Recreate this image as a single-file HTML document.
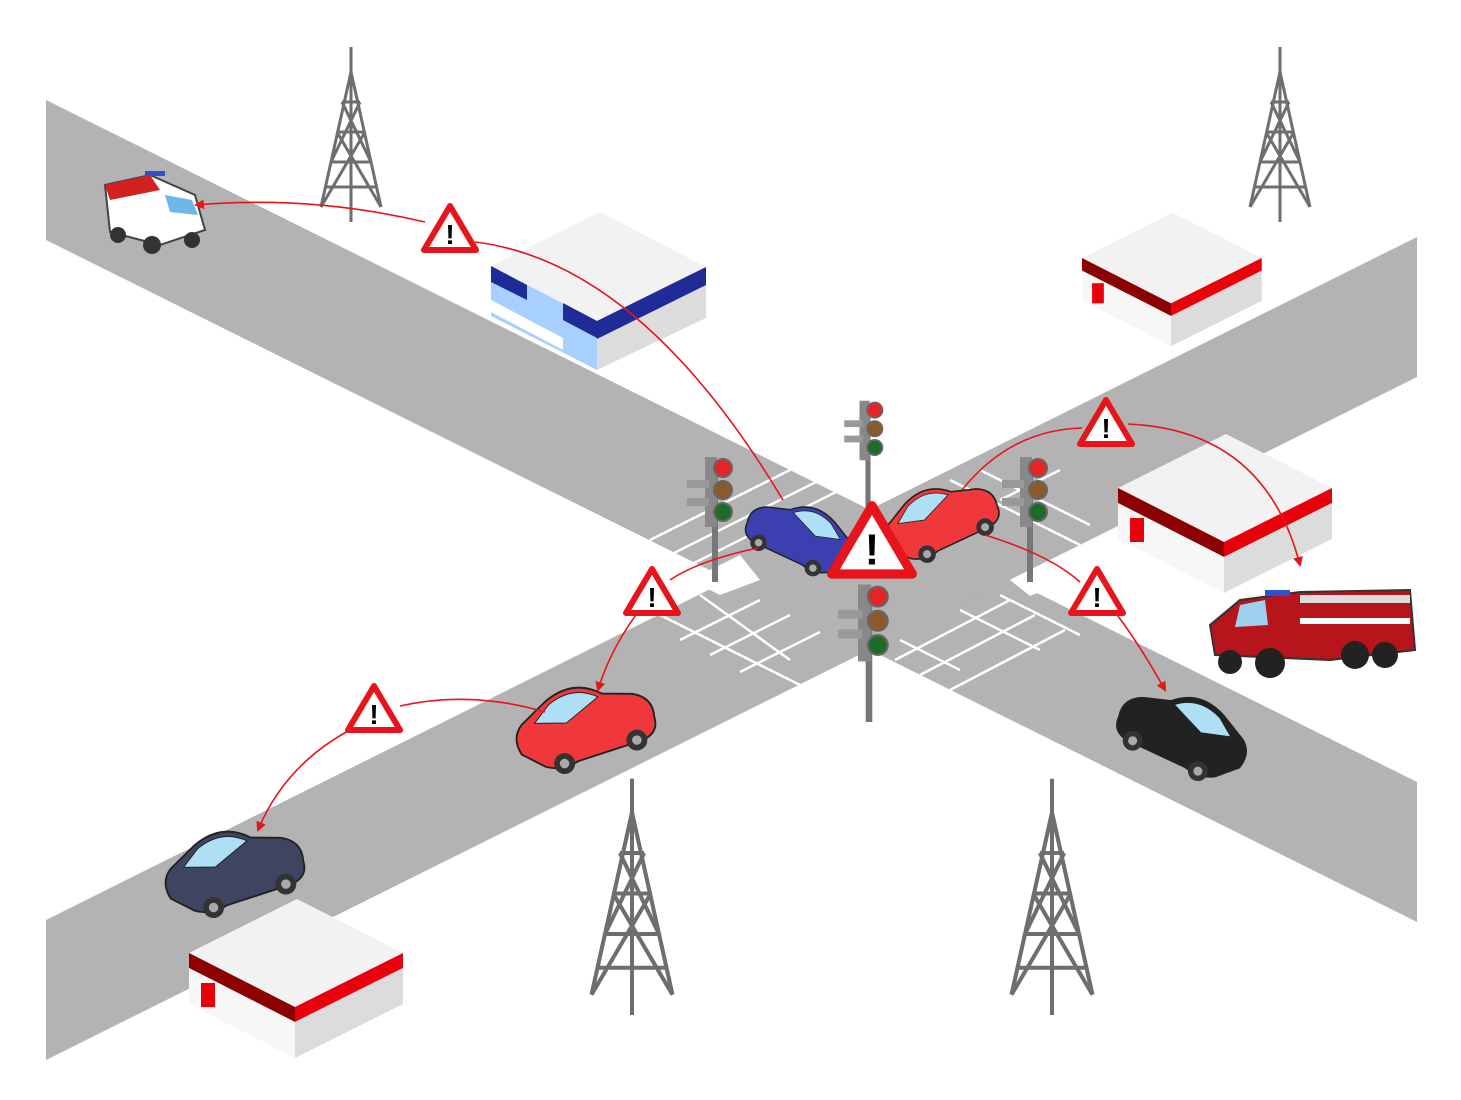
<!DOCTYPE html>
<html><head><meta charset="utf-8"><style>html,body{margin:0;padding:0;background:#fff}svg{display:block}</style></head>
<body>
<svg width="1461" height="1100" viewBox="0 0 1461 1100" xmlns="http://www.w3.org/2000/svg" font-family="Liberation Sans, sans-serif">
<defs>
<marker id="ar" markerWidth="10" markerHeight="10" refX="8" refY="5" orient="auto" markerUnits="userSpaceOnUse"><path d="M0,0 L10,5 L0,10 z" fill="#e8141c"/></marker>
<g id="tower" stroke="#6e6e6e" stroke-width="3" fill="none">
<path d="M0,0 V-175 M-30,-15 L0,-150 L30,-15 M-20,-60 H20 M-14,-90 H14 M-9,-120 H9 M-25,-35 H25 M-30,-15 L14,-90 M30,-15 L-14,-90 M-20,-60 L9,-120 M20,-60 L-9,-120"/>
</g>
<g id="tl">
<rect x="-3" y="0" width="6" height="120" fill="#777"/>
<rect x="-10" y="-5" width="12" height="70" fill="#888"/>
<rect x="-28" y="18" width="22" height="8" fill="#999"/><rect x="-28" y="36" width="22" height="8" fill="#999"/>
<circle cx="8" cy="6" r="9" fill="#e52525" stroke="#666" stroke-width="2"/>
<circle cx="8" cy="28" r="9" fill="#8a5a2a" stroke="#666" stroke-width="2"/>
<circle cx="8" cy="50" r="9" fill="#1f6b2a" stroke="#666" stroke-width="2"/>
</g>
<g id="warn"><path d="M0,-24 L26,20 L-26,20 Z" fill="#fff" stroke="#e8141c" stroke-width="6" stroke-linejoin="round"/><text x="0" y="14" text-anchor="middle" font-size="28" font-weight="bold">!</text></g>
<g id="car">
<path d="M-70,10 Q-75,-10 -55,-20 L-25,-30 Q0,-55 35,-40 L65,-25 Q80,-15 75,5 L55,25 Q40,35 20,30 L-50,30 Q-70,28 -70,10 Z" stroke="#222" stroke-width="2"/>
<path d="M-20,-28 Q2,-48 32,-36 L52,-22 L20,-12 Z" fill="#aee0f5" stroke="#222"/>
<circle cx="-45" cy="28" r="11" fill="#333"/><circle cx="35" cy="28" r="11" fill="#333"/>
<circle cx="-45" cy="28" r="5" fill="#aaa"/><circle cx="35" cy="28" r="5" fill="#aaa"/>
</g>
<g id="bldR">
<polygon points="0,0 108,-54 214,0 106,54" fill="#f2f2f2"/>
<polygon points="0,0 106,54 106,69 0,15" fill="#8b0000"/>
<polygon points="106,54 214,0 214,15 106,69" fill="#e8000b"/>
<polygon points="0,15 106,69 106,105 0,51" fill="#f7f7f7"/>
<polygon points="106,69 214,15 214,51 106,105" fill="#dcdcdc"/>
<rect x="12" y="30" width="14" height="24" fill="#e8000b"/>
</g>
</defs>
<rect width="1461" height="1100" fill="#fff"/>
<!-- roads -->
<polygon points="46,100 1417,782 1417,922 46,240" fill="#b3b3b3"/>
<polygon points="46,920 1417,237 1417,377 46,1060" fill="#b3b3b3"/>
<!-- sidewalk corners -->
<polygon points="690,580 740,555 760,580 720,595" fill="#fff"/>
<polygon points="1010,580 1050,560 1070,580 1030,596" fill="#fff"/>
<!-- crosswalks -->
<g stroke="#fff" stroke-width="2.5" fill="none">
<path d="M650,540 L800,465 M670,555 L820,480 M690,565 L840,490"/>
<path d="M700,595 L790,660 M650,610 L810,690 M680,640 L760,600 M710,655 L790,615 M740,672 L820,632 M640,615 L700,585"/>
<path d="M895,660 L1010,600 M920,675 L1035,615 M950,690 L1065,630 M900,640 L960,670 M960,610 L1040,650 M1000,595 L1080,635"/>
<path d="M950,480 L1080,545 M980,470 L1090,525 M1000,500 L1060,470"/>
</g>
<!-- towers -->
<use href="#tower" x="351" y="222"/>
<use href="#tower" x="1280" y="222"/>
<use href="#tower" x="632" y="1015" transform="translate(632,1015) scale(1.35) translate(-632,-1015)"/>
<use href="#tower" x="1052" y="1015" transform="translate(1052,1015) scale(1.35) translate(-1052,-1015)"/>
<!-- blue building -->
<polygon points="491,266 600,212 706,267 597,321" fill="#f2f2f2"/>
<polygon points="491,266 597,321 597,370 491,316" fill="#a8d0ff"/>
<polygon points="491,266 527,285 527,300 491,282" fill="#1f2b96"/>
<polygon points="563,303 597,321 597,338 563,320" fill="#1f2b96"/>
<polygon points="491,300 563,338 563,350 491,312" fill="#fff"/>
<polygon points="597,321 706,267 706,318 597,370" fill="#dcdcdc"/>
<polygon points="597,321 706,267 706,285 597,339" fill="#1f2b96"/>
<!-- red buildings -->
<g transform="translate(1082,258) scale(0.84)"><use href="#bldR"/></g>
<use href="#bldR" x="1118" y="488"/>
<use href="#bldR" x="189" y="953"/>
<!-- traffic lights -->
<use href="#tl" x="715" y="462"/>
<use href="#tl" x="1030" y="462"/>
<use href="#tl" x="868" y="405" transform="translate(868,405) scale(0.85) translate(-868,-405)"/>
<use href="#tl" x="869" y="590" transform="translate(869,590) scale(1.1) translate(-869,-590)"/>
<!-- cars -->
<g transform="translate(798,538) rotate(25) scale(0.75)" fill="#3b3fb0"><use href="#car"/></g>
<g transform="translate(943,522) rotate(-25) scale(0.8) scale(-1,1)" fill="#f0383c"><use href="#car"/></g>
<g transform="translate(588,728) rotate(-18) scale(0.95) scale(-1,1)" fill="#f0383c"><use href="#car"/></g>
<g transform="translate(237,872) rotate(-18) scale(0.95) scale(-1,1)" fill="#3f4560"><use href="#car"/></g>
<g transform="translate(1180,735) rotate(25) scale(0.9)" fill="#222"><use href="#car"/></g>
<!-- ambulance -->
<g>
<polygon points="105,185 150,175 195,195 205,230 160,245 110,232" fill="#fff" stroke="#444" stroke-width="2"/>
<polygon points="105,185 150,175 160,190 110,200" fill="#d32020"/>
<polygon points="165,195 192,200 198,215 170,212" fill="#6fb7e6"/>
<rect x="145" y="171" width="20" height="5" fill="#3050d0"/>
<circle cx="118" cy="235" r="8" fill="#333"/><circle cx="152" cy="245" r="9" fill="#333"/><circle cx="192" cy="240" r="8" fill="#333"/>
</g>
<!-- fire truck -->
<g>
<polygon points="1210,625 1240,600 1300,592 1410,590 1415,650 1330,660 1215,655" fill="#b8141c" stroke="#333" stroke-width="2"/>
<rect x="1300" y="595" width="110" height="8" fill="#ddd"/>
<rect x="1300" y="618" width="110" height="6" fill="#fff"/>
<polygon points="1240,605 1265,600 1268,625 1235,627" fill="#9ed0ef"/>
<rect x="1265" y="590" width="25" height="6" fill="#3050d0"/>
<circle cx="1230" cy="662" r="12" fill="#222"/><circle cx="1270" cy="663" r="15" fill="#222"/><circle cx="1355" cy="655" r="14" fill="#222"/><circle cx="1385" cy="655" r="13" fill="#222"/>
</g>
<!-- connectors -->
<g stroke="#e8141c" stroke-width="1.6" fill="none">
<path d="M783,500 Q640,262 475,242"/>
<path d="M425,222 Q310,195 196,205" marker-end="url(#ar)"/>
<path d="M758,548 Q700,560 670,580"/>
<path d="M638,612 Q610,650 598,690" marker-end="url(#ar)"/>
<path d="M545,712 Q470,690 400,706"/>
<path d="M350,730 Q285,765 258,830" marker-end="url(#ar)"/>
<path d="M962,490 Q1010,430 1082,428"/>
<path d="M1128,424 Q1265,430 1300,565" marker-end="url(#ar)"/>
<path d="M985,535 Q1050,555 1080,582"/>
<path d="M1115,612 Q1140,645 1165,690" marker-end="url(#ar)"/>
</g>
<!-- warnings -->
<use href="#warn" x="450" y="230"/>
<use href="#warn" x="652" y="593"/>
<use href="#warn" x="1106" y="424"/>
<use href="#warn" x="1097" y="593"/>
<use href="#warn" x="374" y="710"/>
<g transform="translate(872,543) scale(1.55)"><use href="#warn"/></g>
</svg>
</body></html>
